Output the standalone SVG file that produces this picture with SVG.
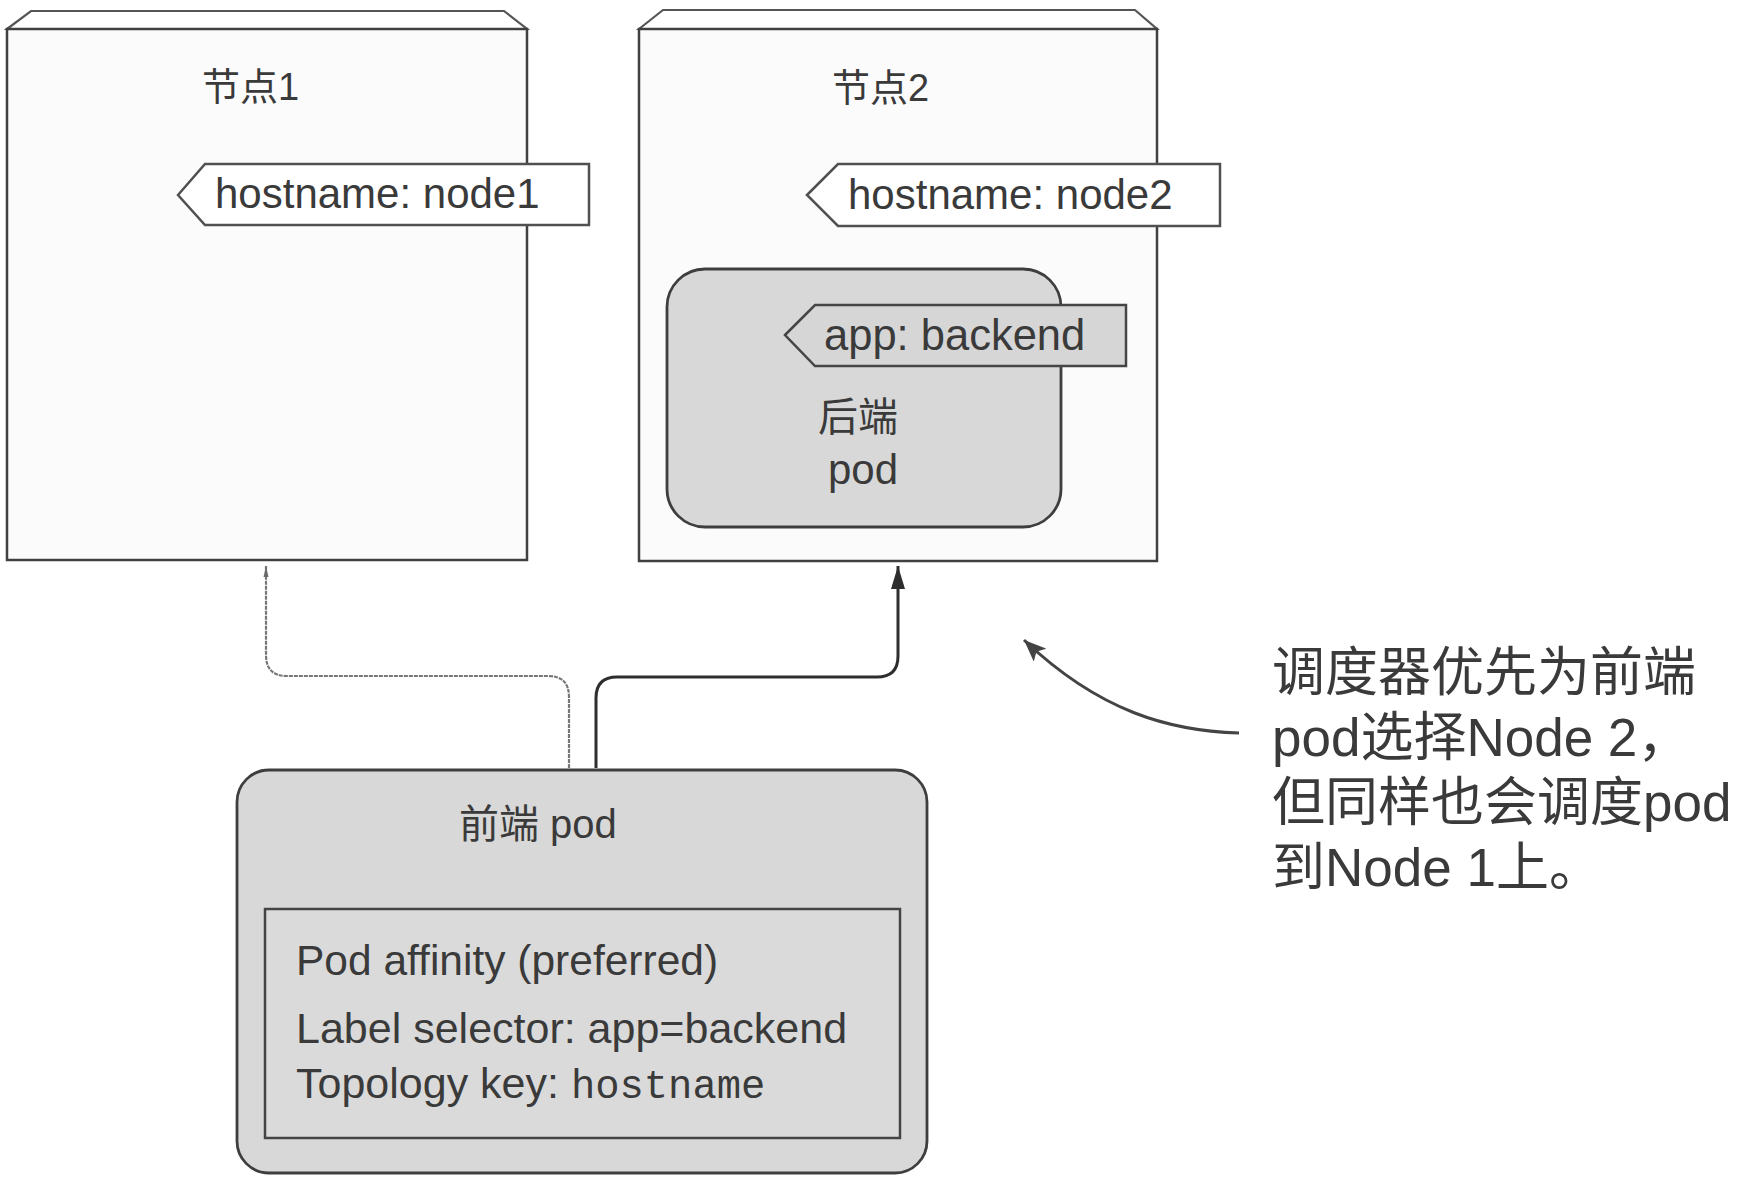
<svg xmlns="http://www.w3.org/2000/svg" width="1750" height="1184" viewBox="0 0 1750 1184">
<defs>
<style>
.box{fill:#fbfbfb;stroke:#404040;stroke-width:2.5}
.bevel{fill:#ffffff;stroke:#555;stroke-width:2.2}
.tagw{fill:#ffffff;stroke:#505050;stroke-width:2.5}
.tagg{fill:#d6d6d6;stroke:#454545;stroke-width:2.5}
.pod{fill:#d8d8d8;stroke:#3e3e3e;stroke-width:2.8}
.t{font-family:"Liberation Sans","Noto Sans CJK SC",Arial,sans-serif;fill:#3a3a3a}
.mono{font-family:"Liberation Mono","Courier New",monospace;fill:#3a3a3a}
</style>
<marker id="ahL" markerUnits="userSpaceOnUse" markerWidth="12" markerHeight="24" refX="22" refY="6" orient="auto" viewBox="0 0 24 12">
<path d="M0,1 L22,6 L0,11 Z" fill="#6a6a6a"/>
</marker>
<marker id="ahR" markerUnits="userSpaceOnUse" markerWidth="24" markerHeight="14" refX="23" refY="7" orient="auto" viewBox="0 0 24 14">
<path d="M0,0 L23,7 L0,14 Z" fill="#2e2e2e"/>
</marker>
<marker id="ahC" markerUnits="userSpaceOnUse" markerWidth="24" markerHeight="18" refX="22" refY="9" orient="auto" viewBox="0 0 24 18">
<path d="M0,0 L22,9 L0,18 L5,9 Z" fill="#444"/>
</marker>
</defs>
<rect width="1750" height="1184" fill="#ffffff"/>

<g id="node1">
<path class="bevel" d="M7,29 L31,11 H504 L527,29 Z"/>
<rect class="box" x="7" y="29" width="520" height="531"/>
<text class="t" x="202" y="100" font-size="38">节点1</text>
</g>

<g id="node2">
<path class="bevel" d="M639,29 L663,10 H1135 L1157,29 Z"/>
<rect class="box" x="639" y="29" width="518" height="532"/>
<text class="t" x="832" y="101" font-size="38">节点2</text>
</g>

<g id="tag-node1">
<polygon class="tagw" points="178,195 205,164 589,164 589,225 205,225"/>
<text class="t" x="215" y="208" font-size="42">hostname: node1</text>
</g>

<g id="tag-node2">
<polygon class="tagw" points="807,195 838,164 1220,164 1220,226 838,226"/>
<text class="t" x="848" y="209" font-size="42">hostname: node2</text>
</g>

<g id="backend-pod">
<rect class="pod" x="667" y="269" width="394" height="258" rx="38" ry="38"/>
<polygon class="tagg" points="785,335 815,305 1126,305 1126,366 815,366"/>
<text class="t" x="824" y="350" font-size="43.5">app: backend</text>
<text class="t" x="818" y="431" font-size="40">后端</text>
<text class="t" x="828" y="484" font-size="42">pod</text>
</g>

<g id="frontend-pod">
<rect class="pod" x="237" y="770" width="690" height="403" rx="32" ry="32"/>
<text class="t" x="459" y="838" font-size="40">前端 pod</text>
<rect x="265" y="909" width="635" height="229" fill="#dadada" stroke="#444" stroke-width="2.5"/>
<text class="t" x="296" y="975" font-size="42.5">Pod affinity (preferred)</text>
<text class="t" x="296" y="1043" font-size="43">Label selector: app=backend</text>
<text class="t" x="296" y="1098" font-size="43">Topology key: <tspan class="mono" font-size="40.5">hostname</tspan></text>
</g>

<g id="connectors" fill="none">
<path d="M569,768 V697 Q569,676 548,676 H287 Q266,676 266,655 V566" stroke="#777" stroke-width="2.2" stroke-dasharray="4 1" marker-end="url(#ahL)"/>
<path d="M596,768 V698 Q596,677 617,677 H877 Q898,677 898,656 V566" stroke="#2e2e2e" stroke-width="3" marker-end="url(#ahR)"/>
<path d="M1239,733 C1170,731 1100,712 1024,640" stroke="#444" stroke-width="3" marker-end="url(#ahC)"/>
</g>

<g id="note">
<text class="t" x="1272" y="691" font-size="53">调度器优先为前端</text>
<text class="t" x="1272" y="756" font-size="53">pod选择Node 2，</text>
<text class="t" x="1272" y="821" font-size="53">但同样也会调度pod</text>
<text class="t" x="1272" y="886" font-size="53">到Node 1上。</text>
</g>
</svg>
